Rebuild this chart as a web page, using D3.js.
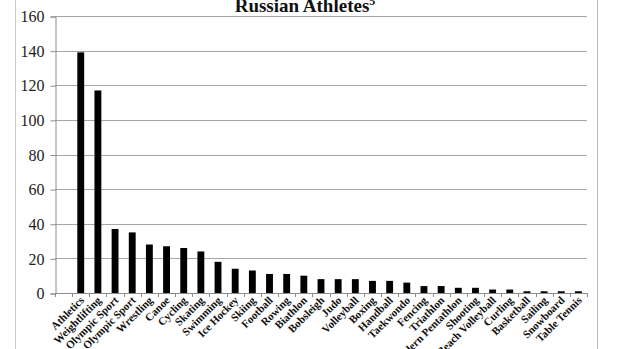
<!DOCTYPE html>
<html>
<head>
<meta charset="utf-8">
<script src="https://cdn.jsdelivr.net/npm/d3@7/dist/d3.min.js"></script>
<style>
  html, body { margin: 0; padding: 0; background: #fff; }
  svg { display: block; }
</style>
</head>
<body>
<svg id="chart" width="620" height="349"></svg>
<script>
// Olympic team composition by sport
const categories = [
  "Athletics", "Weightlifting", "Olympic Sport", "Olympic Sport", "Wrestling",
  "Canoe", "Cycling", "Skating", "Swimming", "Ice Hockey", "Skiing", "Football",
  "Rowing", "Biathlon", "Bobsleigh", "Judo", "Volleyball", "Boxing", "Handball",
  "Taekwondo", "Fencing", "Triathlon", "Modern Pentathlon", "Shooting",
  "Beach Volleyball", "Curling", "Basketball", "Sailing", "Snowboard", "Table Tennis"
];
const athletes = [
  139, 117, 37, 35, 28, 27, 26, 24, 18, 14, 13, 11, 11, 10, 8, 8, 8, 7, 7, 6,
  4, 4, 3, 3, 2, 2, 1, 1, 1, 1
];
const yTicks = [0, 20, 40, 60, 80, 100, 120, 140, 160];
const title = "Russian Athletes";
const titleNote = "5";

(function () {
  const svg = d3.select("#chart");
  const serif = "'Liberation Serif', 'DejaVu Serif', serif";

  const plotLeft = 55, plotRight = 587, plotTop = 16, plotBottom = 293;

  // outer frame
  svg.append("line").attr("x1", 15.5).attr("x2", 15.5).attr("y1", 0).attr("y2", 349)
    .attr("stroke", "#c8c8c8").attr("stroke-width", 1);
  svg.append("line").attr("x1", 597.5).attr("x2", 597.5).attr("y1", 0).attr("y2", 349)
    .attr("stroke", "#b8b8b8").attr("stroke-width", 1);

  // one empty slot precedes the first sport on the category axis
  const slots = ["__lead__"].concat(categories.map((c, i) => i + "|" + c));
  const x = d3.scaleBand().domain(slots).range([plotLeft, plotRight]).paddingInner(0).paddingOuter(0);
  const y = d3.scaleLinear().domain([0, 160]).range([plotBottom, plotTop]);

  // horizontal gridlines
  svg.append("g").selectAll("line").data(yTicks.filter(t => t > 0)).join("line")
    .attr("x1", plotLeft).attr("x2", plotRight)
    .attr("y1", d => Math.round(y(d)) + 0.5).attr("y2", d => Math.round(y(d)) + 0.5)
    .attr("stroke", "#a6a6a6").attr("stroke-width", 1);

  // y axis
  const yAxis = d3.axisLeft(y).tickValues(yTicks).tickSize(5).tickPadding(6);
  const gy = svg.append("g").attr("transform", `translate(${plotLeft + 0.5},0.5)`).call(yAxis);
  gy.select(".domain").attr("stroke", "#8c8c8c");
  gy.selectAll(".tick line").attr("stroke", "#8c8c8c");
  gy.selectAll(".tick text").attr("font-family", serif).attr("font-size", 16)
    .attr("fill", "#222");

  // bars
  const bw = x.bandwidth() / 2.5;
  svg.append("g").selectAll("rect").data(athletes).join("rect")
    .attr("x", (d, i) => x(slots[i + 1]) + (x.bandwidth() - bw) / 2)
    .attr("width", bw)
    .attr("y", d => y(d))
    .attr("height", d => y(0) - y(d))
    .attr("fill", "#000");

  // x axis line and ticks at slot boundaries
  svg.append("line").attr("x1", plotLeft).attr("x2", plotRight)
    .attr("y1", plotBottom + 0.5).attr("y2", plotBottom + 0.5).attr("stroke", "#8c8c8c");
  svg.append("g").selectAll("line").data(slots.concat(["__end__"])).join("line")
    .attr("x1", (d, i) => Math.round(plotLeft + i * x.step()) + 0.5)
    .attr("x2", (d, i) => Math.round(plotLeft + i * x.step()) + 0.5)
    .attr("y1", plotBottom).attr("y2", plotBottom + 4)
    .attr("stroke", "#8c8c8c");

  // category labels
  svg.append("g").selectAll("text").data(categories).join("text")
    .attr("transform", (d, i) => {
      const cx = x(slots[i + 1]) + x.bandwidth() / 2;
      return `translate(${cx + 4},${plotBottom + 8}) rotate(-45)`;
    })
    .attr("text-anchor", "end")
    .attr("font-family", serif).attr("font-weight", "bold").attr("font-size", 11)
    .attr("fill", "#111")
    .text(d => d);

  // title
  const t = svg.append("text").attr("x", 305).attr("y", 12)
    .attr("text-anchor", "middle")
    .attr("font-family", serif).attr("font-weight", "bold").attr("font-size", 19)
    .attr("fill", "#111");
  t.append("tspan").text(title);
  t.append("tspan").attr("font-size", 12).attr("dy", -7).text(titleNote);
})();
</script>
</body>
</html>
